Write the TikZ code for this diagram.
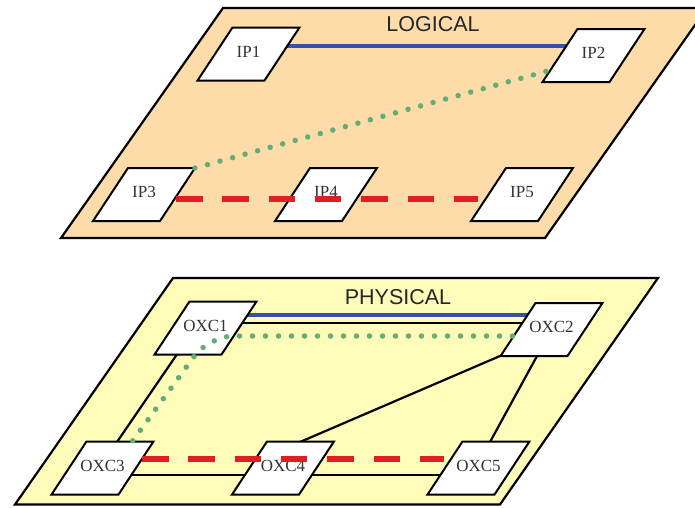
\documentclass[tikz,border=0pt]{standalone}
\usepackage{fontspec}
\setmainfont{Liberation Sans}
\newfontfamily\labfont{Liberation Serif}
\usetikzlibrary{shapes.geometric,calc}
\definecolor{logicfill}{HTML}{FDDCA9}
\definecolor{physfill}{HTML}{FFFBB8}
\definecolor{lnblue}{HTML}{3552A8}
\definecolor{lngreen}{HTML}{62AE76}
\definecolor{lnred}{HTML}{E01E24}
\definecolor{labgray}{HTML}{333333}
\newcommand\devlabel[1]{\makebox[32pt]{#1}}
\pgfdeclarelayer{planes}
\pgfdeclarelayer{links}
\pgfdeclarelayer{front}
\pgfsetlayers{planes,links,main,front}
\begin{document}
\begin{tikzpicture}[x=1pt,y=-1pt,
 plane/.style={draw=black,line width=2.2pt,line join=miter},
 dev/.style={trapezium,trapezium left angle=56.6,trapezium right angle=123.4,
   text width=32pt,text height=29.5pt,text depth=23.5pt,
   inner sep=0pt,outer sep=0pt,draw=black,line width=2pt,fill=white,
   font=\labfont\fontsize{17}{17}\selectfont,text=labgray},
 title/.style={font=\fontsize{21.5}{21.5}\selectfont,text=black!85},
 bluelink/.style={draw=lnblue,line width=4.5pt,shorten <=-4pt,shorten >=-4pt},
 blacklink/.style={draw=black,line width=2.2pt,shorten <=-4pt,shorten >=-4pt},
 greenlink/.style={draw=lngreen,line width=5.5pt,line cap=round,dash pattern=on 0pt off 13pt},
 redlink/.style={draw=lnred,line width=6pt,dash pattern=on 26.5pt off 19.8pt}]
\useasboundingbox (0,0) rectangle (695,507);

\begin{pgfonlayer}{planes}
\draw[plane,fill=logicfill] (61,238) -- (545,238) -- (707,8) -- (223,8) -- cycle;
\draw[plane,fill=physfill] (15,504.5) -- (500,504.5) -- (658,278) -- (173,278) -- cycle;
\end{pgfonlayer}

\node[title] (logical) at (433,24) {LOGICAL};
\node[title] (physical) at (398,297) {PHYSICAL};

\node[dev] (ip1) at (248.5,54) {\devlabel{IP1}};
\node[dev] (ip2) at (593.5,55.5) {\devlabel{IP2}};
\node[dev] (ip3) at (144,194.5) {\devlabel{IP3}};
\node[dev] (ip4) at (326,194.5) {\devlabel{IP4}};
\node[dev] (ip5) at (522,194.5) {\devlabel{IP5}};
\node[dev] (oxc1) at (205.5,328) {\devlabel{OXC1}};
\node[dev] (oxc2) at (551.5,329.5) {\devlabel{OXC2}};
\node[dev] (oxc3) at (102.5,468) {\devlabel{OXC3}};
\node[dev] (oxc4) at (283,468) {\devlabel{OXC4}};
\node[dev] (oxc5) at (478.5,468) {\devlabel{OXC5}};

\begin{pgfonlayer}{links}
\draw[bluelink] ($(ip1.center)+(0,-8)$) -- ($(ip2.center)+(0,-9.5)$);
\draw[bluelink] ($(oxc1.center)+(0,-13)$) -- ($(oxc2.center)+(0,-14.5)$);
\draw[blacklink] ($(oxc1.center)+(0,-5)$) -- ($(oxc2.center)+(0,-6.5)$);
\draw[blacklink] ($(oxc1.center)+(-29,27)$) -- ($(oxc3.center)+(14.5,-26)$);
\draw[blacklink] ($(oxc3.center)+(0,7)$) -- ($(oxc5.center)+(0,7)$);
\draw[blacklink] ($(oxc4.center)+(17,-26)$) -- ($(oxc2.center)+(-51.5,26.5)$);
\draw[blacklink] ($(oxc2.center)+(-14.5,26.5)$) -- ($(oxc5.center)+(11.5,-26)$);
\end{pgfonlayer}

\begin{pgfonlayer}{front}
\draw[greenlink] (ip3.top right corner) -- ($(ip2.center)+(-42.5,14.5)$);
\draw[redlink] ($(ip3.center)+(32,4.5)$) -- ($(ip5.center)+(-44,4.5)$);
\coordinate (gbend) at ($(oxc1.center)+(3.5,8)$);
\draw[greenlink,rounded corners=25pt] ($(oxc2.center)+(-39,6.5)$) -- (gbend) -- ($(oxc3.center)+(30,-27)$);
\draw[redlink] ($(oxc3.center)+(39.5,-9)$) -- ($(oxc5.center)+(-34.5,-9)$);
\end{pgfonlayer}
\end{tikzpicture}
\end{document}
